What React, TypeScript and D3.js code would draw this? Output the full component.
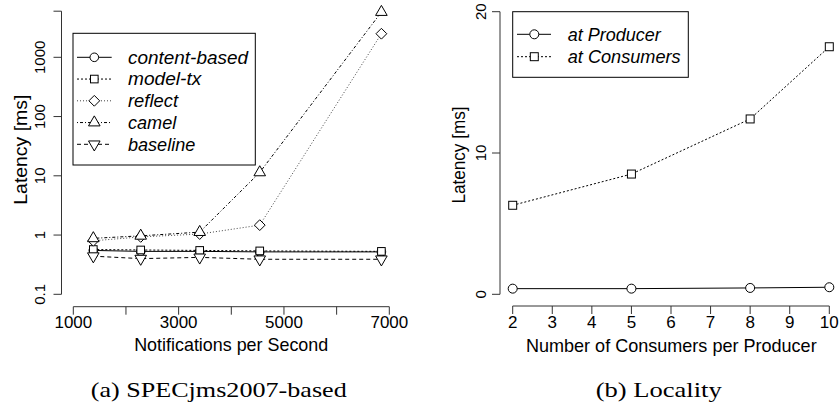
import React from "react";
import * as d3 from "d3";

// ---------- Data: (a) SPECjms2007-based ----------
const rates = [1380, 2280, 3400, 4540, 6850];
const contentBased = [0.55, 0.53, 0.53, 0.52, 0.52];
const modelTx = [0.57, 0.56, 0.55, 0.54, 0.53];
const reflect = [0.8, 0.93, 1.04, 1.47, 2500];
const camel = [0.88, 0.97, 1.12, 11.4, 5800];
const baseline = [0.44, 0.4, 0.42, 0.39, 0.39];
const leftSeriesNames = ["content-based", "model-tx", "reflect", "camel", "baseline"];
const leftYTicks = [0.1, 1, 10, 100, 1000];
const leftYTickLabels = ["0.1", "1", "10", "100", "1000"];
const leftYAxisTop = 6000;
const leftXTicks = [1000, 2000, 3000, 4000, 5000, 6000, 7000];
const leftXTickLabels = ["1000", "", "3000", "", "5000", "", "7000"];

// ---------- Data: (b) Locality ----------
const consumers = [2, 5, 8, 10];
const atProducer = [0.4, 0.4, 0.45, 0.5];
const atConsumers = [6.3, 8.51, 12.41, 17.52];
const rightSeriesNames = ["at Producer", "at Consumers"];
const rightYTicks = [0, 10, 20];
const rightXTicks = [2, 3, 4, 5, 6, 7, 8, 9, 10];

const SANS = "'Liberation Sans', Arial, Helvetica, sans-serif";
const SERIF = "'Liberation Serif', 'DejaVu Serif', serif";
const AX = "#333";

type Shape = "circle" | "square" | "diamond" | "up" | "down";

function Marker({ x, y, shape, r }: { x: number; y: number; shape: Shape; r: number }) {
  const common = { fill: "white", stroke: "#000", strokeWidth: 1 };
  if (shape === "circle") return <circle cx={x} cy={y} r={r} {...common} />;
  if (shape === "square") {
    const h = r * 0.886;
    return <rect x={x - h} y={y - h} width={2 * h} height={2 * h} {...common} />;
  }
  if (shape === "diamond") {
    const h = r * 1.253;
    return <path d={`M${x},${y - h}L${x + h},${y}L${x},${y + h}L${x - h},${y}Z`} {...common} />;
  }
  const tr0 = 1.555 * r;
  const xc = 1.347 * r;
  const yc = 0.778 * r;
  if (shape === "up")
    return <path d={`M${x},${y - tr0}L${x + xc},${y + yc}L${x - xc},${y + yc}Z`} {...common} />;
  return <path d={`M${x},${y + tr0}L${x + xc},${y - yc}L${x - xc},${y - yc}Z`} {...common} />;
}

function Txt(props: {
  x: number;
  y: number;
  children: string;
  size: number;
  anchor?: string;
  rotate?: boolean;
  italic?: boolean;
  family?: string;
  len?: number;
  dy?: string;
}) {
  const { x, y, children, size, anchor = "middle", rotate, italic, family = SANS, len, dy } = props;
  return (
    <text
      transform={`translate(${x},${y})${rotate ? " rotate(-90)" : ""}`}
      fontSize={size}
      fontFamily={family}
      fontStyle={italic ? "italic" : "normal"}
      textAnchor={anchor}
      dy={dy}
      fill="#000"
      textLength={len}
      lengthAdjust={len ? "spacingAndGlyphs" : undefined}
    >
      {children}
    </text>
  );
}

export default function App() {
  const xL = d3.scaleLinear().domain([1000, 7000]).range([73.3, 389.3]);
  const yL = d3.scaleLog().domain([0.1, 1000]).range([294.3, 57.3]);
  const xR = d3.scaleLinear().domain([2, 10]).range([512.7, 829.3]);
  const yR = d3.scaleLinear().domain([0, 20]).range([294.3, 11.7]);

  const leftSeries = [
    { name: leftSeriesNames[0], vals: contentBased, shape: "circle" as Shape, dash: "none", color: "#000" },
    { name: leftSeriesNames[1], vals: modelTx, shape: "square" as Shape, dash: "2,2", color: "#000" },
    { name: leftSeriesNames[2], vals: reflect, shape: "diamond" as Shape, dash: "1,2", color: "#444" },
    { name: leftSeriesNames[3], vals: camel, shape: "up" as Shape, dash: "1,2,3,2", color: "#000" },
    { name: leftSeriesNames[4], vals: baseline, shape: "down" as Shape, dash: "4,3", color: "#000" },
  ];
  const rightSeries = [
    { name: rightSeriesNames[0], vals: atProducer, shape: "circle" as Shape, dash: "none" },
    { name: rightSeriesNames[1], vals: atConsumers, shape: "square" as Shape, dash: "2,2" },
  ];

  const lineL = d3
    .line<[number, number]>()
    .x((d) => xL(d[0]))
    .y((d) => yL(d[1]));
  const lineR = d3
    .line<[number, number]>()
    .x((d) => xR(d[0]))
    .y((d) => yR(d[1]));

  const leftLegendText = [120, 73.3, 50, 48.3, 67.3];
  const rightLegendText = [93, 113];

  return (
    <svg
      width={839}
      height={408}
      style={{ position: "absolute", left: 0, top: 0, background: "#fff" }}
    >
      {/* ================= LEFT PANEL ================= */}
      <line x1={61.5} x2={61.5} y1={yL(leftYAxisTop)} y2={yL(0.1)} stroke={AX} />
      {[...leftYTicks, leftYAxisTop].map((t, i) => (
        <line key={"lyt" + i} x1={53.5} x2={61.5} y1={yL(t)} y2={yL(t)} stroke={AX} />
      ))}
      {leftYTicks.map((t, i) => (
        <Txt key={"lyl" + i} x={40} y={yL(t)} size={15} rotate dy="0.35em">
          {leftYTickLabels[i]}
        </Txt>
      ))}
      <Txt x={20.5} y={149.7} size={18.5} rotate dy="0.35em" len={110}>
        Latency [ms]
      </Txt>
      <line x1={xL(1000)} x2={xL(7000)} y1={306.7} y2={306.7} stroke={AX} />
      {leftXTicks.map((t, i) => (
        <line key={"lxt" + i} x1={xL(t)} x2={xL(t)} y1={306.7} y2={314.7} stroke={AX} />
      ))}
      {leftXTicks.map((t, i) =>
        leftXTickLabels[i] ? (
          <Txt key={"lxl" + i} x={xL(t)} y={328} size={17} len={37.7}>
            {leftXTickLabels[i]}
          </Txt>
        ) : null
      )}
      <Txt x={231.2} y={351} size={18.5} len={194}>
        Notifications per Second
      </Txt>
      <Txt x={218.7} y={397} size={21} family={SERIF} len={256}>
        (a) SPECjms2007-based
      </Txt>

      {leftSeries.map((s) => (
        <path
          key={"ll" + s.name}
          d={lineL(rates.map((r, i) => [r, s.vals[i]] as [number, number])) || ""}
          fill="none"
          stroke={s.color}
          strokeWidth={1}
          strokeDasharray={s.dash}
        />
      ))}
      {leftSeries.map((s) =>
        rates.map((r, i) => (
          <Marker key={"lm" + s.name + i} x={xL(r)} y={yL(s.vals[i])} shape={s.shape} r={4.3} />
        ))
      )}

      <rect x={73} y={33.3} width={182.3} height={131.7} fill="white" stroke="#000" />
      {leftSeries.map((s, i) => {
        const y = 57.3 + i * 21.75;
        return (
          <g key={"lleg" + i}>
            <line x1={77} x2={111.7} y1={y} y2={y} stroke={s.color} strokeDasharray={s.dash} />
            <Marker x={94.3} y={y} shape={s.shape} r={4.3} />
            <Txt x={128} y={y} size={18} anchor="start" italic dy="0.35em" len={leftLegendText[i]}>
              {s.name}
            </Txt>
          </g>
        );
      })}

      {/* ================= RIGHT PANEL ================= */}
      <line x1={500} x2={500} y1={yR(20)} y2={yR(0)} stroke={AX} />
      {rightYTicks.map((t, i) => (
        <line key={"ryt" + i} x1={492} x2={500} y1={yR(t)} y2={yR(t)} stroke={AX} />
      ))}
      {rightYTicks.map((t, i) => (
        <Txt key={"ryl" + i} x={481} y={yR(t)} size={15} rotate dy="0.35em">
          {String(t)}
        </Txt>
      ))}
      <Txt x={458.5} y={155} size={18} rotate dy="0.35em" len={97}>
        Latency [ms]
      </Txt>
      <line x1={xR(2)} x2={xR(10)} y1={306} y2={306} stroke={AX} />
      {rightXTicks.map((t, i) => (
        <line key={"rxt" + i} x1={xR(t)} x2={xR(t)} y1={306} y2={314} stroke={AX} />
      ))}
      {rightXTicks.map((t, i) => (
        <Txt key={"rxl" + i} x={xR(t)} y={327.5} size={17}>
          {String(t)}
        </Txt>
      ))}
      <Txt x={671.3} y={351.5} size={18.5} len={290.7}>
        Number of Consumers per Producer
      </Txt>
      <Txt x={658.7} y={397} size={21} family={SERIF} len={126}>
        (b) Locality
      </Txt>

      {rightSeries.map((s) => (
        <path
          key={"rl" + s.name}
          d={lineR(consumers.map((c, i) => [c, s.vals[i]] as [number, number])) || ""}
          fill="none"
          stroke="#000"
          strokeWidth={1}
          strokeDasharray={s.dash}
        />
      ))}
      {rightSeries.map((s) =>
        consumers.map((c, i) => (
          <Marker key={"rm" + s.name + i} x={xR(c)} y={yR(s.vals[i])} shape={s.shape} r={4.5} />
        ))
      )}

      <rect x={512.7} y={11.7} width={175.6} height={65.6} fill="white" stroke="#000" />
      {rightSeries.map((s, i) => {
        const y = 34.3 + i * 22.4;
        return (
          <g key={"rleg" + i}>
            <line x1={517} x2={551} y1={y} y2={y} stroke="#000" strokeDasharray={s.dash} />
            <Marker x={534.3} y={y} shape={s.shape} r={4.5} />
            <Txt x={567.7} y={y} size={18} anchor="start" italic dy="0.35em" len={rightLegendText[i]}>
              {s.name}
            </Txt>
          </g>
        );
      })}
    </svg>
  );
}
